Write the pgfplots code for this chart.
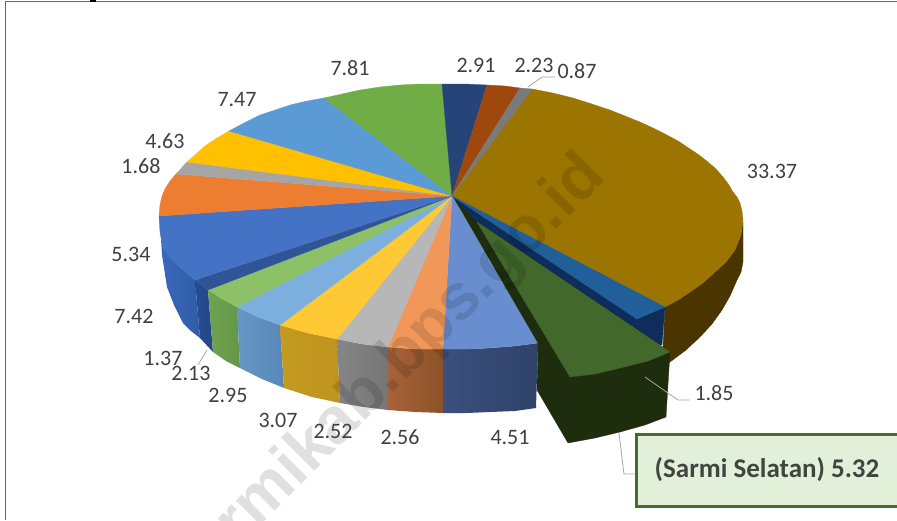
\documentclass[border=0pt]{standalone}
\usepackage{fontspec}
\setmainfont{Carlito}
\newfontfamily\wmfont{Liberation Sans}
\usepackage{pgfplots}
\pgfplotsset{compat=1.18}

% flat face of the pie, coordinates are image pixels
\newcommand{\face}[2]{\addplot[fill=#1,draw=#1,line width=0.3pt] coordinates {#2} -- cycle;}
% side wall with a soft left-right shading
\newcommand{\wall}[3]{\addplot[left color=#1,right color=#2,draw=none] coordinates {#3} -- cycle;}
\newcommand{\val}[3]{\node[text=txt,font=\fontsize{22}{24}\selectfont] at (axis cs:#1,#2) {#3};}
\newcommand{\leader}[1]{\addplot[lead,line width=0.8pt] coordinates {#1};}

\definecolor{txt}{HTML}{404040}
\definecolor{gold}{HTML}{9C7400}
\definecolor{goldside}{HTML}{4A3400}
\definecolor{seablue}{HTML}{215F9A}
\definecolor{navydark}{HTML}{0E2D5A}
\definecolor{grn}{HTML}{43682B}
\definecolor{grndark}{HTML}{1E2D0E}
\definecolor{peri}{HTML}{698ED0}
\definecolor{peel}{HTML}{F1975A}
\definecolor{gry}{HTML}{B7B7B7}
\definecolor{yel}{HTML}{FFC935}
\definecolor{lblue}{HTML}{7CAFDD}
\definecolor{lgrn}{HTML}{8CC168}
\definecolor{dblue}{HTML}{2F5597}
\definecolor{blu}{HTML}{4472C4}
\definecolor{ora}{HTML}{ED7D31}
\definecolor{gry2}{HTML}{A5A5A5}
\definecolor{gol2}{HTML}{FFC000}
\definecolor{sky}{HTML}{5B9BD5}
\definecolor{gr2}{HTML}{70AD47}
\definecolor{nav}{HTML}{264478}
\definecolor{rust}{HTML}{9E480E}
\definecolor{dgray}{HTML}{7A7A7A}
\definecolor{lead}{HTML}{A6A6A6}
\definecolor{boxfill}{HTML}{E2EFD9}
\definecolor{boxline}{HTML}{4A6A33}
\definecolor{frame}{HTML}{666666}
\definecolor{bluA}{HTML}{3B69B8}
\definecolor{bluB}{HTML}{2E5CA8}
\definecolor{dbluA}{HTML}{264C92}
\definecolor{dbluB}{HTML}{234788}
\definecolor{lgrnA}{HTML}{6FA34E}
\definecolor{lgrnB}{HTML}{64964A}
\definecolor{lbluA}{HTML}{6596C4}
\definecolor{lbluB}{HTML}{5788B8}
\definecolor{yelA}{HTML}{C49A20}
\definecolor{yelB}{HTML}{BF9420}
\definecolor{gryA}{HTML}{858585}
\definecolor{gryB}{HTML}{767676}
\definecolor{peelA}{HTML}{A8623A}
\definecolor{peelB}{HTML}{8D5228}
\definecolor{periA}{HTML}{3C4F7E}
\definecolor{periB}{HTML}{2F4268}

\begin{document}
\begin{tikzpicture}
\useasboundingbox (0,0) rectangle (897pt,520pt);
\begin{axis}[
    hide axis,
    scale only axis,
    width=897pt,
    height=520pt,
    xmin=0,xmax=897,
    ymin=0,ymax=520,
    y dir=reverse,
    no markers,
    clip=true]

% frame of the screenshot
\addplot[frame,line width=1.5pt] coordinates {(5.5,520) (5.5,1.5) (897,1.5)};
\addplot[black,line width=2pt] coordinates {(90,1)(96,1)};

% side walls
\face{goldside}{(743,222)(741,235)(735,250)(726,262)(715,272)(703,283)(690,292)(678,300)(665,307)(662,366)(670,362)(686,350)(700,337)(712,324)(722,310)(730,296)(737,280)(741,272)(743,262)}
\face{navydark}{(665,307)(637,319)(640,345)(662,345)}
\wall{bluA}{bluB}{(160,222)(160,232)(163,247)(170,258)(180,267)(195,280)(200,338)(191,331)(183,323)(174,305)(167,287)(162,255)}
\wall{dbluA}{dbluB}{(195,280)(208,290)(213,352)(200,338)}
\wall{lgrnA}{lgrnB}{(208,290)(237,307)(240,368)(226,361)(213,352)}
\wall{lbluA}{lbluB}{(237,307)(258,317)(280,325)(284,388)(262,379)(240,368)}
\wall{yelA}{yelB}{(280,325)(308,333)(337,339)(340,403)(312,397)(284,388)}
\wall{gryA}{gryB}{(337,339)(362,344)(388,347)(388,410)(364,407)(340,403)}
\wall{peelA}{peelB}{(388,347)(415,349)(443,349)(443,413)(415,412)(388,410)}
\wall{periA}{periB}{(443,349)(467,349)(490,348)(515,346)(538,343)(536,408)(515,411)(490,412)(467,413)(443,413)}

% top faces, clockwise from the big slice
\face{gold}{(452,196)(532,89)(553,93)(573,98)(592,104)(610,110)(625,116)(640,122)(653,128)(665,134)(678,141)(690,149)(699,155)(708,162)(716,169)(723,177)(729,185)(733,192)(737,197)(740,203)(742,211)(743,220)(741,235)(735,250)(726,262)(715,272)(703,283)(690,292)(678,300)(665,307)}
\face{navydark}{(452,196)(637,319)(645,345)(610,345)(480,235)}
\face{seablue}{(452,196)(665,307)(637,319)}
\face{peri}{(452,196)(538,343)(515,346)(490,348)(467,349)(443,349)}
\face{peel}{(452,196)(443,349)(415,349)(388,347)}
\face{gry}{(452,196)(388,347)(362,344)(337,339)}
\face{yel}{(452,196)(337,339)(308,333)(280,325)}
\face{lblue}{(452,196)(280,325)(258,317)(237,307)}
\face{lgrn}{(452,196)(237,307)(222,299)(208,290)}
\face{dblue}{(452,196)(208,290)(195,280)}
\face{blu}{(452,196)(195,280)(180,267)(170,258)(163,247)(160,232)(159,216)}
\face{ora}{(452,196)(159,216)(160,205)(162,196)(165,189)(170,181)(176,174)}
\face{gry2}{(452,196)(176,174)(187,162)}
\face{gol2}{(452,196)(187,162)(196,154)(205,146)(217,138)(229,131)}
\face{sky}{(452,196)(229,131)(244,123)(260,115)(275,110)(290,105)(307,101)(324,98)}
\face{gr2}{(452,196)(324,98)(342,94)(360,90)(380,87)(400,85)(420,84)(442,84)}
\face{nav}{(452,196)(442,84)(465,84)(487,85)}
\face{rust}{(452,196)(487,85)(505,86)(520,88)}
\face{dgray}{(452,196)(520,88)(532,89)}

% pulled out slice (Sarmi Selatan)
\face{grndark}{(455,200)(538,343)(537,390)(568,443)(595,438)(620,432)(645,425)(666,417)(670,352)(477,222)}
\face{grn}{(477,222)(670,352)(648,361)(620,368)(595,374)(570,377)}

% leader lines
\leader{(528,87)(542,77)(555,77)}
\leader{(207,350)(198,365)}
\leader{(645,377)(678,400)(690,400)}
\leader{(619,433)(624,474)(636,474)}

% callout box
\addplot[fill=boxfill,draw=boxline,line width=3pt] coordinates {(636,434)(905,434)(905,506)(636,506)} -- cycle;

% watermark
\node[overlay,anchor=base east,rotate=45,text=black,opacity=0.12,font=\wmfont\bfseries\fontsize{65}{65}\selectfont]
    at (axis cs:610,176) {sarmikab.bps.go.id};

% values
\val{350}{68}{7.81}
\val{476}{65}{2.91}
\val{534}{65}{2.23}
\val{577}{71}{0.87}
\val{772}{171}{33.37}
\val{237}{100}{7.47}
\val{165}{141}{4.63}
\val{141}{166}{1.68}
\val{131}{254}{5.34}
\val{134}{316}{7.42}
\val{163}{358}{1.37}
\val{191}{373}{2.13}
\val{228}{395}{2.95}
\val{278}{420}{3.07}
\val{333}{431}{2.52}
\val{400}{437}{2.56}
\val{510}{437}{4.51}
\val{714}{393}{1.85}
\node[text=txt!90!boxline,font=\bfseries\fontsize{27}{30}\selectfont] at (axis cs:767,470) {(Sarmi Selatan) 5.32};
\end{axis}
\end{tikzpicture}
\end{document}
